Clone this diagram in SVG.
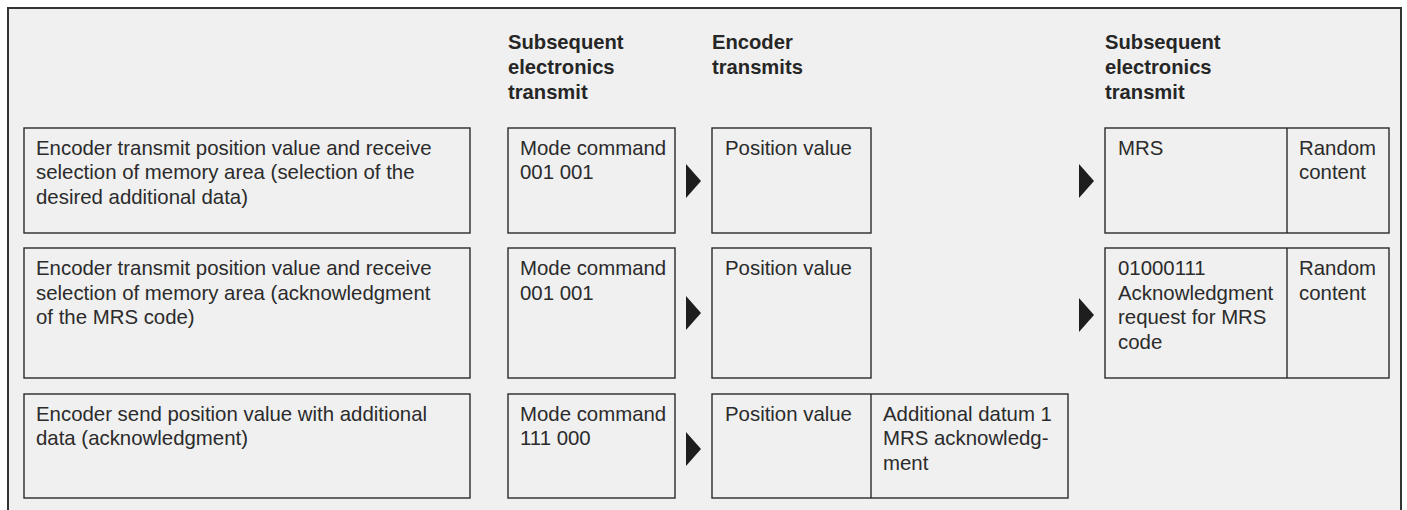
<svg xmlns="http://www.w3.org/2000/svg" width="1407" height="510" viewBox="0 0 1407 510">
  <style>
    .frame { fill: #f0f0f0; stroke: #333; stroke-width: 2; }
    .box { fill: #f0f0f0; stroke: #2a2a2a; stroke-width: 1.4; }
    .div { stroke: #2a2a2a; stroke-width: 1.4; }
    .txt { font-family: "Liberation Sans", Arial, sans-serif; font-size: 20.4px; fill: #2b2b2b; }
    .hdr { font-family: "Liberation Sans", Arial, sans-serif; font-size: 20.2px; font-weight: bold; fill: #262626; }
    .arrow { fill: #1e1e1e; }
  </style>
  <defs>
    <polygon id="tri" points="0,-17 15,0 0,17"/>
  </defs>

  <rect width="1407" height="510" fill="#ffffff"/>
  <!-- outer frame, open at the bottom -->
  <rect class="frame" x="8" y="8" width="1393" height="520"/>

  <!-- column headings -->
  <g id="heading-electronics-1">
    <text class="hdr" x="508" y="49">Subsequent</text>
    <text class="hdr" x="508" y="74">electronics</text>
    <text class="hdr" x="508" y="99">transmit</text>
  </g>
  <g id="heading-encoder">
    <text class="hdr" x="712" y="49">Encoder</text>
    <text class="hdr" x="712" y="74">transmits</text>
  </g>
  <g id="heading-electronics-2">
    <text class="hdr" x="1105" y="49">Subsequent</text>
    <text class="hdr" x="1105" y="74">electronics</text>
    <text class="hdr" x="1105" y="99">transmit</text>
  </g>

  <!-- row 1 -->
  <g id="desc-1">
    <rect class="box" x="24" y="128" width="446" height="105"/>
    <text class="txt" x="36" y="155">Encoder transmit position value and receive</text>
    <text class="txt" x="36" y="179">selection of memory area (selection of the</text>
    <text class="txt" x="36" y="204">desired additional data)</text>
  </g>
  <g id="mode-1">
    <rect class="box" x="508" y="128" width="167" height="105"/>
    <text class="txt" x="520" y="155">Mode command</text>
    <text class="txt" x="520" y="179">001 001</text>
  </g>
  <g id="pos-1">
    <rect class="box" x="712" y="128" width="159" height="105"/>
    <text class="txt" x="725" y="155">Position value</text>
  </g>
  <g id="mrs-1">
    <rect class="box" x="1105" y="128" width="284" height="105"/>
    <line class="div" x1="1287" y1="128" x2="1287" y2="233"/>
    <text class="txt" x="1118" y="155">MRS</text>
    <text class="txt" x="1299" y="155">Random</text>
    <text class="txt" x="1299" y="179">content</text>
  </g>

  <!-- row 2 -->
  <g id="desc-2">
    <rect class="box" x="24" y="248" width="446" height="130"/>
    <text class="txt" x="36" y="275">Encoder transmit position value and receive</text>
    <text class="txt" x="36" y="300">selection of memory area (acknowledgment</text>
    <text class="txt" x="36" y="324">of the MRS code)</text>
  </g>
  <g id="mode-2">
    <rect class="box" x="508" y="248" width="167" height="130"/>
    <text class="txt" x="520" y="275">Mode command</text>
    <text class="txt" x="520" y="300">001 001</text>
  </g>
  <g id="pos-2">
    <rect class="box" x="712" y="248" width="159" height="130"/>
    <text class="txt" x="725" y="275">Position value</text>
  </g>
  <g id="ack-request-2">
    <rect class="box" x="1105" y="248" width="284" height="130"/>
    <line class="div" x1="1287" y1="248" x2="1287" y2="378"/>
    <text class="txt" x="1118" y="275">01000111</text>
    <text class="txt" x="1118" y="300">Acknowledgment</text>
    <text class="txt" x="1118" y="324">request for MRS</text>
    <text class="txt" x="1118" y="349">code</text>
    <text class="txt" x="1299" y="275">Random</text>
    <text class="txt" x="1299" y="300">content</text>
  </g>

  <!-- row 3 -->
  <g id="desc-3">
    <rect class="box" x="24" y="394" width="446" height="104"/>
    <text class="txt" x="36" y="421">Encoder send position value with additional</text>
    <text class="txt" x="36" y="445">data (acknowledgment)</text>
  </g>
  <g id="mode-3">
    <rect class="box" x="508" y="394" width="167" height="104"/>
    <text class="txt" x="520" y="421">Mode command</text>
    <text class="txt" x="520" y="445">111 000</text>
  </g>
  <g id="pos-3">
    <rect class="box" x="712" y="394" width="356" height="104"/>
    <line class="div" x1="871" y1="394" x2="871" y2="498"/>
    <text class="txt" x="725" y="421">Position value</text>
    <text class="txt" x="883" y="421">Additional datum 1</text>
    <text class="txt" x="883" y="445">MRS acknowledg-</text>
    <text class="txt" x="883" y="470">ment</text>
  </g>

  <!-- direction arrows -->
  <g id="connectors">
    <use href="#tri" class="arrow" x="686" y="181"/>
    <use href="#tri" class="arrow" x="1079" y="181"/>
    <use href="#tri" class="arrow" x="686" y="313"/>
    <use href="#tri" class="arrow" x="1079" y="315"/>
    <use href="#tri" class="arrow" x="686" y="449"/>
  </g>
</svg>
